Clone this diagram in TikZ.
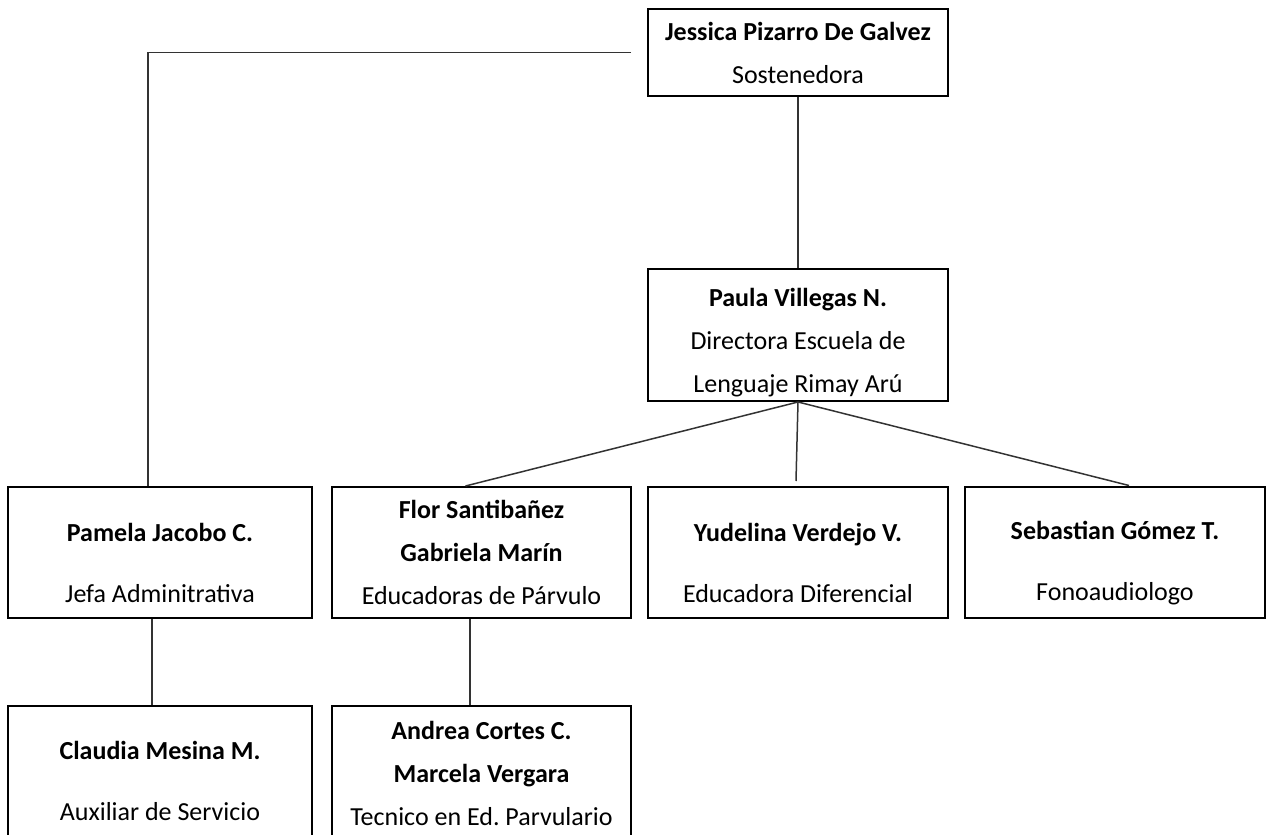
\documentclass[tikz,border=0pt]{standalone}
\usepackage{fontspec}
\setmainfont{Carlito}
\usepackage{tikz}
\usetikzlibrary{calc, positioning}

\newcommand{\lowerby}[1]{\rule{0pt}{#1}}

\begin{document}
\begin{tikzpicture}[x=0.5pt, y=-0.5pt,
    font=\fontsize{13}{21.5}\selectfont,
    box/.style={draw, line width=1pt, rectangle, align=center, inner sep=0pt,
      minimum width=150pt, minimum height=65.5pt},
    link/.style={draw=black!80, line width=0.75pt}]
  \useasboundingbox (0,0) rectangle (1266,835);
  % top
  \node[box, minimum height=43.5pt] (jessica) at (798, 52.5) {\textbf{Jessica Pizarro De Galvez}\\Sostenedora};
  \node[box, minimum height=66pt] (paula) at (798, 335) {\lowerby{16.5pt}\textbf{Paula Villegas N.}\\Directora Escuela de\\Lenguaje Rimay Arú};
  % middle row
  \node[box, minimum width=152pt] (pamela) at (160, 552.5) {\lowerby{19.5pt}\textbf{Pamela Jacobo C.}\\[9pt]Jefa Adminitrativa};
  \node[box, minimum width=149.5pt] (flor) at (481.5, 552.5) {\textbf{Flor Santibañez}\\\textbf{Gabriela Marín}\\Educadoras de Párvulo};
  \node[box] (yudelina) at (798, 552.5) {\lowerby{19.5pt}\textbf{Yudelina Verdejo V.}\\[9pt]Educadora Diferencial};
  \node[box] (sebastian) at (1115, 552) {\lowerby{20pt}\textbf{Sebastian Gómez T.}\\[9pt]Fonoaudiologo};
  % bottom row
  \node[box, minimum width=152pt, minimum height=67pt] (claudia) at (160, 773) {\lowerby{17.5pt}\textbf{Claudia Mesina M.}\\[9pt]Auxiliar de Servicio};
  \node[box, minimum width=149.5pt, minimum height=67pt] (andrea) at (481.5, 773) {\textbf{Andrea Cortes C.}\\\textbf{Marcela Vergara}\\Tecnico en Ed.\ Parvulario};
  % connectors
  \coordinate (corner) at ($(jessica.west)+(-16,0)$);
  \draw[link] (corner) -| ($(pamela.north)+(-12,0)$);
  \draw[link] (jessica.south) -- (paula.north);
  \draw[link] (paula.south) -- ($(flor.north)+(-16,0)$);
  \draw[link] (paula.south) -- ($(yudelina.north)+(-2,-5)$);
  \draw[link] (paula.south) -- ($(sebastian.north)+(14,0)$);
  \draw[link] ($(pamela.south)+(-8,0)$) -- ($(claudia.north)+(-8,0)$);
  \draw[link] ($(flor.south)+(-11.5,0)$) -- ($(andrea.north)+(-11.5,0)$);
\end{tikzpicture}
\end{document}
